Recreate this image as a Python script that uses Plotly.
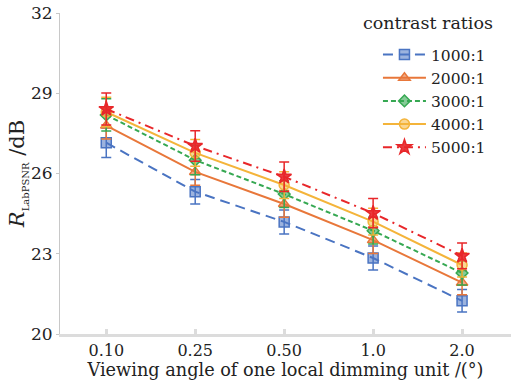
import plotly.graph_objects as go

categories = ["0.10", "0.25", "0.50", "1.0", "2.0"]
series_names = ["1000:1", "2000:1", "3000:1", "4000:1", "5000:1"]
v1000 = [27.15, 25.32, 24.19, 22.84, 21.24]
v2000 = [27.79, 26.06, 24.86, 23.51, 21.92]
v3000 = [28.19, 26.50, 25.23, 23.86, 22.28]
v4000 = [28.30, 26.77, 25.57, 24.20, 22.58]
v5000 = [28.41, 27.03, 25.88, 24.52, 22.92]
err1000 = [0.55, 0.46, 0.45, 0.45, 0.42]
err2000 = [0.5, 0.5, 0.5, 0.5, 0.45]
err3000 = [0.6, 0.55, 0.5, 0.5, 0.45]
err4000 = [0.55, 0.5, 0.5, 0.5, 0.45]
err5000 = [0.6, 0.57, 0.55, 0.55, 0.48]
y_ticks = [20, 23, 26, 29, 32]
legend_title = "contrast ratios"

values = [v1000, v2000, v3000, v4000, v5000]
errors = [err1000, err2000, err3000, err4000, err5000]
colors = ["#4a74c2", "#e8773a", "#36a852", "#f4b43a", "#e8272a"]
fills = ["rgba(74,116,194,0.55)", "rgba(232,119,58,0.6)", "rgba(54,168,82,0.6)",
         "rgba(244,180,58,0.55)", "rgba(232,39,42,0.9)"]
dash_specs = ["10px,6px", "solid", "5px,3px", "solid", "9px,5px,2px,5px"]
symbols = ["square", "triangle-up", "diamond", "circle", "star"]
sizes = [10, 10, 9, 10, 11]

FONT = "DejaVu Serif"
TXT = "#222"
xs = list(range(len(categories)))

fig = go.Figure()
for name, vals, errs, c, f, d, s, sz in zip(series_names, values, errors, colors, fills,
                                          dash_specs, symbols, sizes):
    fig.add_trace(go.Scatter(
        x=xs, y=vals, name=name, mode="lines+markers",
        line=dict(color=c, width=2, dash=d),
        marker=dict(symbol=s, size=sz, color=f, line=dict(color=c, width=1.5)),
        error_y=dict(type="data", array=errs, visible=True, color=c, thickness=1.5, width=5),
    ))

fig.add_annotation(
    text=legend_title, xref="paper", yref="paper", x=0.816, y=0.969,
    xanchor="center", yanchor="middle", showarrow=False,
    font=dict(family=FONT, size=17.5, color=TXT),
)

fig.update_layout(
    width=511, height=386,
    margin=dict(l=60, r=0, t=13, b=52, autoexpand=False),
    paper_bgcolor="white", plot_bgcolor="white",
    font=dict(family=FONT, size=16, color=TXT),
    showlegend=True,
    legend=dict(
        x=0.705, y=0.922, xanchor="left", yanchor="top",
        bgcolor="rgba(0,0,0,0)", font=dict(family=FONT, size=15.5, color=TXT),
        tracegroupgap=0, itemwidth=43,
    ),
    xaxis=dict(
        tickmode="array", tickvals=xs, ticktext=categories,
        range=[-0.52, 4.55], showgrid=False, zeroline=False, automargin=False,
        showline=True, linecolor="#dcdcdc", linewidth=3,
        ticks="inside", ticklen=5, tickcolor="#dcdcdc", tickwidth=3,
        ticklabeloverflow="allow",
        tickfont=dict(family=FONT, size=16, color=TXT),
        title=dict(text="Viewing angle of one local dimming unit /(°)",
                   font=dict(family=FONT, size=17.7, color=TXT), standoff=2),
    ),
    yaxis=dict(
        tickmode="array", tickvals=y_ticks, range=[20, 32],
        showgrid=False, zeroline=False, automargin=False,
        showline=True, linecolor="#c8c8c8", linewidth=1,
        ticks="outside", ticklen=3, tickcolor="#c8c8c8",
        ticklabeloverflow="allow",
        tickfont=dict(family=FONT, size=17, color=TXT),
        title=dict(text='<i>R</i><sub><span style="font-size:10px">LabPSNR</span></sub> /dB',
                   font=dict(family=FONT, size=21, color=TXT), standoff=0),
    ),
)

fig.write_html("out.html", config={"displayModeBar": False},
               post_script="document.body.style.margin='0';")
